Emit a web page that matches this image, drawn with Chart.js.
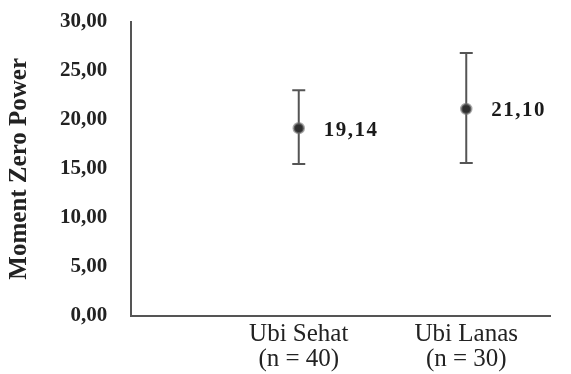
<!DOCTYPE html>
<html>
<head>
<meta charset="utf-8">
<script src="https://cdn.jsdelivr.net/npm/chart.js@4.4.0/dist/chart.umd.min.js"></script>
<style>
  html, body { margin: 0; padding: 0; background: #fff; }
  #wrap { width: 571px; height: 374px; }
</style>
</head>
<body>
<div id="wrap"><canvas id="myChart" width="571" height="374"></canvas></div>
<script>
'use strict';
// data
let categoryLabels = [['Ubi Sehat', '(n = 40)'], ['Ubi Lanas', '(n = 30)']];
let means = [19.14, 21.10];
let upper = [23.0, 26.8];
let lower = [15.5, 15.6];
let yTicks = [0, 5, 10, 15, 20, 25, 30];

function fmt(v){
  return v.toFixed(2).replace('.', ',');
}

let barColor = '#555555';
let serif = '"Liberation Serif", "Times New Roman", serif';
let datasets = [];

// vertical error lines, one per category
for (let i = 0; i < means.length; i++) {
  datasets.push({
    type: 'line',
    data: [{x: i + 1, y: lower[i]}, {x: i + 1, y: upper[i]}],
    borderColor: barColor,
    borderWidth: 2,
    pointRadius: 0,
    order: 3
  });
}

// caps
let caps = [];
for (let i = 0; i < means.length; i++) {
  caps.push({x: i + 1, y: lower[i]});
  caps.push({x: i + 1, y: upper[i]});
}
datasets.push({
  type: 'scatter',
  data: caps,
  pointStyle: 'line',
  pointRadius: 6.5,
  borderColor: barColor,
  borderWidth: 2,
  order: 2
});

// mean points
datasets.push({
  type: 'scatter',
  data: means.map((m, i) => ({x: i + 1, y: m})),
  pointRadius: 5,
  backgroundColor: '#2e2e2e',
  borderColor: 'rgba(110,110,110,0.6)',
  borderWidth: 2.5,
  order: 1
});

// value labels next to the means
let valueLabels = {
  id: 'valueLabels',
  afterDatasetsDraw(chart){
    let ctx = chart.ctx;
    let xs = chart.scales.x;
    let ys = chart.scales.y;
    ctx.save();
    ctx.font = 'bold 21px ' + serif;
    ctx.letterSpacing = '1.5px';
    ctx.fillStyle = '#1a1a1a';
    ctx.textAlign = 'left';
    ctx.textBaseline = 'middle';
    for (let i = 0; i < means.length; i++) {
      ctx.fillText(fmt(means[i]), xs.getPixelForValue(i + 1) + 25, ys.getPixelForValue(means[i]) + 2);
    }
    ctx.restore();
  }
};

let ctx = document.getElementById('myChart');
let myChart = new Chart(ctx, {
  data: { datasets: datasets },
  plugins: [valueLabels],
  options: {
    responsive: false,
    animation: false,
    layout: { padding: { top: 0, right: 21, left: 5, bottom: -4 } },
    plugins: {
      legend: { display: false },
      tooltip: { enabled: false }
    },
    scales: {
      x: {
        type: 'linear',
        min: 0,
        max: 2.5,
        afterBuildTicks(axis){
          axis.ticks = categoryLabels.map((c, i) => ({value: i + 1}));
        },
        grid: { display: false, drawTicks: false },
        border: { display: true, color: barColor, width: 2 },
        ticks: {
          padding: 6,
          color: '#222',
          font: { family: serif, size: 25, lineHeight: 1.0 },
          callback: function(value){
            return categoryLabels[value - 1] || '';
          }
        }
      },
      y: {
        min: 0,
        max: 30,
        afterBuildTicks(axis){
          axis.ticks = yTicks.map(v => ({value: v}));
        },
        // invisible tick marks give the gap between labels and axis
        grid: { display: true, drawOnChartArea: false, drawTicks: true, tickLength: 15, color: 'rgba(0,0,0,0)' },
        border: { display: true, color: barColor, width: 2 },
        title: {
          display: true,
          text: 'Moment Zero Power',
          color: '#222',
          padding: { top: 0, bottom: 16 },
          font: { family: serif, size: 25, weight: 'bold' }
        },
        ticks: {
          padding: 9,
          color: '#222',
          font: { family: serif, size: 21, weight: 'bold' },
          callback: function(value){
            return fmt(value);
          }
        }
      }
    }
  }
});
</script>
</body>
</html>
